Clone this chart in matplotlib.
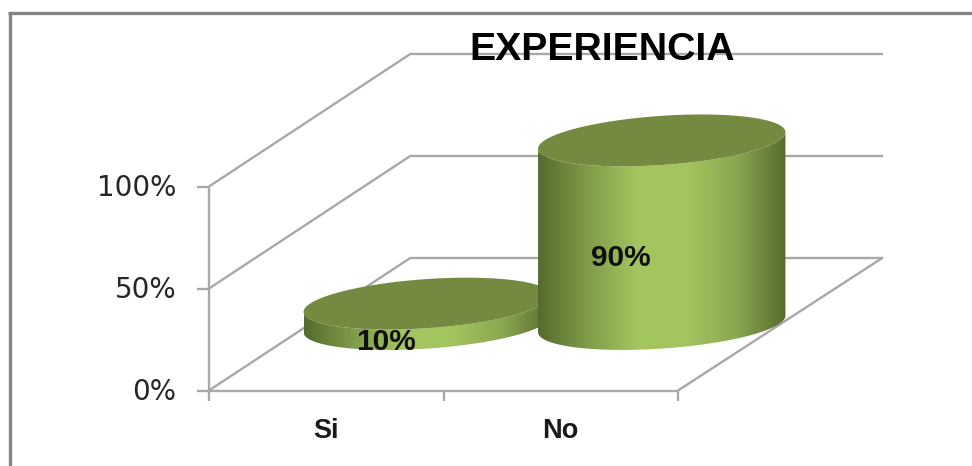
import numpy as np
import matplotlib
matplotlib.use("Agg")
import matplotlib.pyplot as plt
from matplotlib.colors import LinearSegmentedColormap
from matplotlib.patches import Polygon

W, H = 972, 466

title = "EXPERIENCIA"
categories = ["Si", "No"]
values = [10, 90]
value_ticks = [0, 50, 100]

GRID = "#a8a8a8"
BORDER = "#858585"
TOP = "#748a41"
side = LinearSegmentedColormap.from_list(
    "side", ["#566b2f", "#7f9c48", "#a3c55f", "#a3c55f", "#8aa850", "#566b2f"])

# oblique box: front-left floor corner, category width, value scale, depth offset (pixels)
X0, Y0 = 209, 390.5
CAT_W = 234.5
PX_PER_PCT = 2.04
DEPTH = (202, -133)
BACK_EXTRA = 3  # the back wall runs a little wider than the front edge
RX, RD = 0.5, 0.195  # cylinder radius: in categories, in depth units
BOLD = "Liberation Sans"


def proj(cat, val, depth=0.0):
    """category units, percent, depth 0..1 -> pixel coordinates"""
    return (X0 + cat * CAT_W + depth * DEPTH[0],
            Y0 - val * PX_PER_PCT + depth * DEPTH[1])


def ellipse(cat, val, t):
    x = X0 + (cat + RX * np.cos(t)) * CAT_W + (0.5 + RD * np.sin(t)) * DEPTH[0]
    y = Y0 - val * PX_PER_PCT + (0.5 + RD * np.sin(t)) * DEPTH[1]
    return np.column_stack([x, y])


fig = plt.figure(figsize=(W / 100, H / 100), dpi=100)
ax = fig.add_axes([0, 0, 1, 1])
ax.axis("off")


def line(a, b, color=GRID, lw=1.7):
    ax.plot([a[0], b[0]], [a[1], b[1]], color=color, lw=lw, solid_capstyle="butt", zorder=1)


# outer frame, only top and left are inside the crop
line((9.5, H), (9.5, 12.5), BORDER, 2.4)
line((8, 12.5), (W, 12.5), BORDER, 2.4)

n = len(categories)
for v in value_ticks:
    line(proj(0, v), proj(0, v, 1))
    bx, by = proj(n, v, 1)
    line(proj(0, v, 1), (bx + BACK_EXTRA, by))
    tx, ty = proj(0, v)
    line((tx - 12, ty), (tx, ty))
    ax.text(tx - 33, ty + 1, f"{v}%", ha="right", va="center", fontsize=20,
            color="#262626", family="DejaVu Sans")
line(proj(0, 0), proj(0, max(value_ticks)))
line(proj(0, 0), proj(n, 0))
bx, by = proj(n, 0, 1)
line(proj(n, 0), (bx + BACK_EXTRA, by))
for c in range(n + 1):
    tx, ty = proj(c, 0)
    line((tx, ty), (tx, ty + 10))

ax.text(602.5, 50, title, ha="center", va="center", fontsize=28.3, fontweight="bold",
        family=BOLD, color="black", zorder=10)

grad = np.linspace(0, 1, 256).reshape(1, -1)
for i, (cat, val) in enumerate(zip(categories, values)):
    c = i + 0.5
    # silhouette tangents of the skewed ellipse
    t0 = np.arctan2(RD * DEPTH[0], RX * CAT_W)
    arc = np.linspace(t0, t0 - np.pi, 120)
    low = ellipse(c, 0, arc)
    high = ellipse(c, val, arc[::-1])
    body = Polygon(np.vstack([low, high]), closed=True, facecolor="none",
                   edgecolor="none", zorder=3 + i * 2)
    ax.add_patch(body)
    im = ax.imshow(grad, cmap=side, aspect="auto", zorder=3 + i * 2,
                   extent=[low[:, 0].min(), low[:, 0].max(), Y0, 0])
    im.set_clip_path(body)
    top = ellipse(c, val, np.linspace(0, 2 * np.pi, 240))
    ax.add_patch(Polygon(top, closed=True, facecolor=TOP, edgecolor="none",
                         zorder=4 + i * 2))

    lx, ly = proj(c, 0)
    ax.text(lx - 0.5, 430.5, cat, ha="center", va="center", fontsize=19.5,
            fontweight="bold", family=BOLD, color="#1a1a1a", zorder=10)

# data labels sit on the front of each cylinder
ax.text(386, 341.5, f"{values[0]}%", ha="center", va="center", fontsize=21.5,
        fontweight="bold", family=BOLD, color="#101010", zorder=10)
ax.text(621, 258.5, f"{values[1]}%", ha="center", va="center", fontsize=21.5,
        fontweight="bold", family=BOLD, color="#101010", zorder=10)

ax.set_xlim(0, W)
ax.set_ylim(H, 0)
fig.savefig("out.png", dpi=100, facecolor="white")
